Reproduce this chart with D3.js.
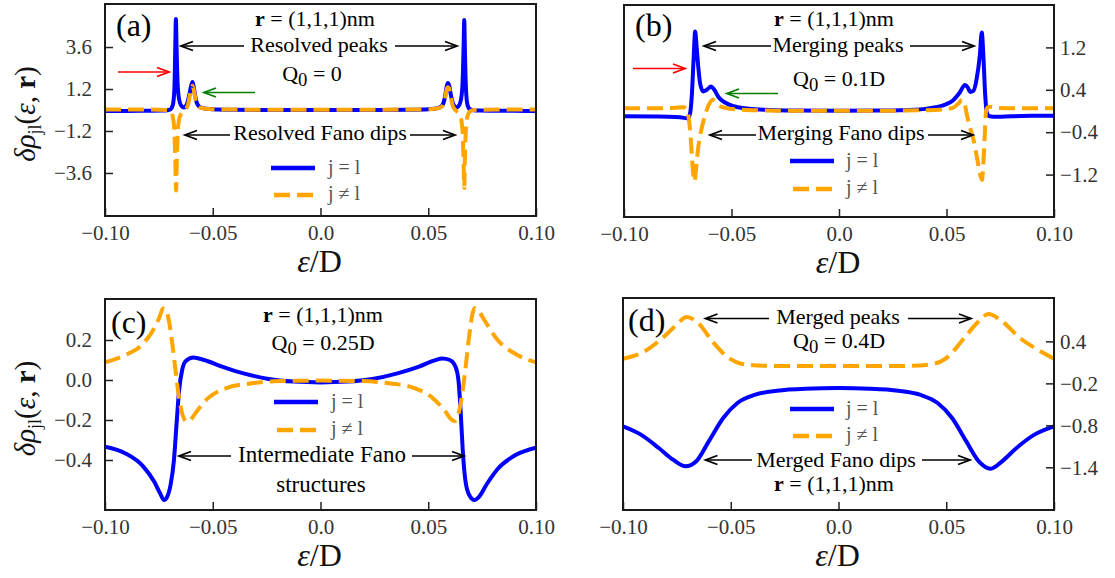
<!DOCTYPE html>
<html>
<head>
<meta charset="utf-8">
<script src="https://cdn.jsdelivr.net/npm/d3@7"></script>
<style>
  body { margin: 0; background: #fff; }
  svg text { font-family: "Liberation Serif", "DejaVu Serif", serif; }
</style>
</head>
<body>
<svg id="fig" width="1115" height="578"></svg>
<script>
// ---- data ----
const xTicks = [-0.10, -0.05, 0.0, 0.05, 0.10];
const xTickLabels = ['−0.10', '−0.05', '0.0', '0.05', '0.10'];

const aYTicks = [3.6, 1.2, -1.2, -3.6];
const aYTickLabels = ['3.6', '1.2', '−1.2', '−3.6'];
const bYTicks = [1.2, 0.4, -0.4, -1.2];
const bYTickLabels = ['1.2', '0.4', '−0.4', '−1.2'];
const cYTicks = [0.2, 0.0, -0.2, -0.4];
const cYTickLabels = ['0.2', '0.0', '−0.2', '−0.4'];
const dYTicks = [0.4, -0.2, -0.8, -1.4];
const dYTickLabels = ['0.4', '−0.2', '−0.8', '−1.4'];

// (a) Q0 = 0
const aSame = [[-0.100,-0.05],[-0.090,-0.05],[-0.080,-0.04],[-0.074,-0.03],[-0.071,-0.01],[-0.0695,0.05],[-0.0685,0.3],[-0.0678,1.2],[-0.0674,3.5],[-0.0671,5.2],[-0.0668,3.6],[-0.0663,1.5],[-0.0656,0.6],[-0.0646,0.25],[-0.0633,0.15],[-0.0621,0.3],[-0.0609,0.85],[-0.0600,1.4],[-0.0594,1.6],[-0.0588,1.3],[-0.0580,0.7],[-0.0570,0.3],[-0.0555,0.14],[-0.053,0.07],[-0.048,0.03],[-0.040,0.01],[-0.020,0.0],[0.0,0.0],[0.020,0.0],[0.040,0.01],[0.048,0.03],[0.053,0.07],[0.0552,0.14],[0.0567,0.3],[0.0577,0.7],[0.0585,1.3],[0.0591,1.55],[0.0597,1.4],[0.0605,0.85],[0.0617,0.3],[0.0629,0.15],[0.0642,0.25],[0.0652,0.6],[0.0659,1.5],[0.0664,3.6],[0.0667,5.15],[0.0670,3.5],[0.0675,1.2],[0.0682,0.3],[0.0692,0.05],[0.071,-0.01],[0.074,-0.03],[0.080,-0.04],[0.090,-0.05],[0.100,-0.05]];
const aDiff = [[-0.100,0.03],[-0.085,0.03],[-0.075,0.02],[-0.071,0.0],[-0.0695,-0.1],[-0.0686,-0.35],[-0.0679,-1.0],[-0.0674,-2.8],[-0.0670,-4.6],[-0.0667,-3.0],[-0.0663,-1.4],[-0.0657,-0.6],[-0.0648,-0.25],[-0.0636,-0.08],[-0.0625,0.05],[-0.0615,0.3],[-0.0606,0.85],[-0.0599,1.25],[-0.0594,1.38],[-0.0588,1.15],[-0.0580,0.6],[-0.0570,0.25],[-0.0555,0.12],[-0.052,0.06],[-0.045,0.03],[-0.030,0.02],[0.0,0.02],[0.030,0.02],[0.045,0.03],[0.052,0.06],[0.0552,0.12],[0.0567,0.25],[0.0577,0.6],[0.0585,1.15],[0.0591,1.3],[0.0596,1.25],[0.0603,0.85],[0.0612,0.3],[0.0622,0.05],[0.0633,-0.08],[0.0645,-0.25],[0.0654,-0.6],[0.0660,-1.4],[0.0664,-3.0],[0.0667,-4.45],[0.0670,-2.8],[0.0675,-1.0],[0.0682,-0.35],[0.0692,-0.1],[0.071,0.0],[0.075,0.02],[0.085,0.03],[0.100,0.03]];

// (b) Q0 = 0.1D
const bSame = [[-0.100,-0.10],[-0.085,-0.105],[-0.076,-0.115],[-0.072,-0.13],[-0.0703,-0.14],[-0.0693,-0.05],[-0.0684,0.33],[-0.0676,1.0],[-0.0669,1.5],[-0.0662,1.2],[-0.0655,0.85],[-0.0646,0.52],[-0.0632,0.37],[-0.0615,0.40],[-0.0595,0.46],[-0.0580,0.4],[-0.0560,0.26],[-0.0530,0.16],[-0.0490,0.09],[-0.0440,0.05],[-0.0350,0.025],[-0.020,0.01],[0.0,0.005],[0.020,0.01],[0.035,0.025],[0.040,0.04],[0.045,0.07],[0.050,0.13],[0.053,0.2],[0.056,0.34],[0.0586,0.49],[0.0598,0.45],[0.0610,0.36],[0.0625,0.38],[0.0640,0.6],[0.0655,1.05],[0.0664,1.48],[0.0672,1.0],[0.0680,0.3],[0.0688,-0.04],[0.0700,-0.1],[0.0735,-0.11],[0.080,-0.10],[0.090,-0.09],[0.100,-0.09]];
const bDiff = [[-0.100,0.05],[-0.085,0.05],[-0.076,0.06],[-0.0725,0.07],[-0.0710,0.04],[-0.0700,-0.1],[-0.0690,-0.5],[-0.0680,-1.1],[-0.0672,-1.33],[-0.0664,-1.05],[-0.0655,-0.7],[-0.0645,-0.45],[-0.0630,-0.18],[-0.0615,0.02],[-0.0600,0.16],[-0.0588,0.21],[-0.0575,0.18],[-0.0560,0.11],[-0.0530,0.06],[-0.0480,0.03],[-0.040,0.015],[-0.020,0.005],[0.0,0.005],[0.020,0.005],[0.040,0.015],[0.048,0.03],[0.0530,0.06],[0.0555,0.14],[0.0572,0.21],[0.0585,0.12],[0.0597,-0.11],[0.0612,-0.35],[0.0626,-0.55],[0.0645,-0.95],[0.0665,-1.3],[0.0672,-0.95],[0.0678,-0.45],[0.0684,0.0],[0.0692,0.07],[0.0705,0.08],[0.0730,0.06],[0.085,0.05],[0.100,0.05]];

// (c) Q0 = 0.25D
const cSame = [[-0.100,-0.333],[-0.0905,-0.367],[-0.0822,-0.433],[-0.0772,-0.508],[-0.0745,-0.565],[-0.0726,-0.60],[-0.0712,-0.585],[-0.0695,-0.52],[-0.0680,-0.40],[-0.0668,-0.22],[-0.0656,-0.05],[-0.0642,0.05],[-0.0625,0.095],[-0.0590,0.112],[-0.0540,0.10],[-0.0457,0.067],[-0.0357,0.033],[-0.0241,0.005],[-0.0125,-0.008],[0.0,-0.012],[0.0125,-0.008],[0.0241,0.005],[0.0357,0.033],[0.0457,0.067],[0.0530,0.098],[0.0565,0.108],[0.0600,0.10],[0.0625,0.07],[0.0640,0.0],[0.0650,-0.15],[0.0660,-0.35],[0.0672,-0.5],[0.0690,-0.575],[0.0715,-0.60],[0.0735,-0.585],[0.0772,-0.52],[0.0822,-0.445],[0.0905,-0.375],[0.100,-0.338]];
const cDiff = [[-0.100,0.088],[-0.0905,0.125],[-0.0822,0.183],[-0.0772,0.258],[-0.0745,0.32],[-0.0731,0.358],[-0.0716,0.35],[-0.0706,0.31],[-0.0690,0.20],[-0.0673,0.05],[-0.0656,-0.09],[-0.0640,-0.175],[-0.0620,-0.208],[-0.0600,-0.195],[-0.0581,-0.167],[-0.0523,-0.092],[-0.044,-0.042],[-0.0324,-0.017],[-0.0191,-0.005],[0.0,-0.003],[0.0191,-0.005],[0.0324,-0.017],[0.044,-0.042],[0.0523,-0.092],[0.0581,-0.16],[0.0605,-0.195],[0.0622,-0.205],[0.0640,-0.17],[0.0656,-0.08],[0.0673,0.06],[0.0690,0.22],[0.0705,0.33],[0.0716,0.36],[0.0731,0.35],[0.0760,0.3],[0.0822,0.2],[0.0905,0.13],[0.100,0.088]];

// (d) Q0 = 0.4D
const dSame = [[-0.100,-0.814],[-0.0917,-0.933],[-0.0834,-1.124],[-0.0768,-1.29],[-0.0710,-1.386],[-0.0660,-1.314],[-0.0602,-1.029],[-0.0535,-0.695],[-0.0469,-0.481],[-0.0386,-0.362],[-0.0286,-0.305],[-0.0154,-0.276],[0.0,-0.267],[0.0145,-0.276],[0.0278,-0.305],[0.0378,-0.362],[0.046,-0.481],[0.0527,-0.695],[0.0593,-1.029],[0.0651,-1.314],[0.0706,-1.419],[0.0759,-1.314],[0.0826,-1.124],[0.0909,-0.933],[0.100,-0.814]];
const dDiff = [[-0.100,0.152],[-0.090,0.257],[-0.0817,0.448],[-0.0751,0.638],[-0.0705,0.748],[-0.0651,0.662],[-0.0585,0.40],[-0.0519,0.186],[-0.0452,0.081],[-0.0353,0.052],[-0.0237,0.048],[0.0,0.048],[0.0237,0.048],[0.0344,0.052],[0.0444,0.081],[0.051,0.186],[0.0577,0.424],[0.0643,0.662],[0.0696,0.79],[0.0759,0.686],[0.0842,0.448],[0.0925,0.281],[0.100,0.152]];

const BLUE = '#0000ff';
const ORANGE = '#ffa500';
const svg = d3.select('#fig');

// ---- helpers ----
function richText(g, x, y, parts, size, anchor, color) {
  const t = g.append('text')
    .attr('x', x).attr('y', y)
    .attr('text-anchor', anchor || 'middle')
    .attr('fill', color || '#000')
    .style('font-size', size + 'px');
  parts.forEach(p => {
    const s = t.append('tspan').text(p.t);
    if (p.b) s.style('font-weight', 'bold');
    if (p.i) s.style('font-style', 'italic');
    if (p.dy) s.attr('dy', p.dy);
    if (p.fs) s.style('font-size', p.fs);
  });
  return t;
}

function arrow(g, x1, y, x2, color) {
  const dir = Math.sign(x2 - x1);
  g.append('line')
    .attr('x1', x1).attr('y1', y).attr('x2', x2 - dir * 1).attr('y2', y)
    .attr('stroke', color).attr('stroke-width', 1.6);
  g.append('path')
    .attr('d', `M${x2 - dir * 12},${y - 4.5}L${x2},${y}L${x2 - dir * 12},${y + 4.5}`)
    .attr('fill', 'none').attr('stroke', color).attr('stroke-width', 1.8);
}

const rParts = [{ t: 'r', b: true }, { t: ' = (1,1,1)nm' }];
const qParts = v => [{ t: 'Q' }, { t: '0', dy: 5, fs: '0.85em' }, { t: ' = ' + v, dy: -5 }];

// ---- panels ----
const panels = [
  { name: '(a)', box: [105, 4, 536, 216], yDomain: [-6.06, 6.06], yTicks: aYTicks, yLabels: aYTickLabels, side: 'left', same: aSame, diff: aDiff },
  { name: '(b)', box: [624, 5, 1054, 217], yDomain: [-2.0, 2.0], yTicks: bYTicks, yLabels: bYTickLabels, side: 'right', same: bSame, diff: bDiff },
  { name: '(c)', box: [105, 299, 536, 510], yDomain: [-0.65, 0.405], yTicks: cYTicks, yLabels: cYTickLabels, side: 'left', same: cSame, diff: cDiff },
  { name: '(d)', box: [623, 298, 1054, 510], yDomain: [-2.01, 1.02], yTicks: dYTicks, yLabels: dYTickLabels, side: 'right', same: dSame, diff: dDiff }
];

panels.forEach((p, k) => {
  const [x0, y0, x1, y1] = p.box;
  const x = d3.scaleLinear().domain([-0.1, 0.1]).range([x0, x1]);
  const y = d3.scaleLinear().domain(p.yDomain).range([y1, y0]);
  const g = svg.append('g');

  const clipId = 'clip' + k;
  svg.append('clipPath').attr('id', clipId)
    .append('rect').attr('x', x0).attr('y', y0).attr('width', x1 - x0).attr('height', y1 - y0);

  const line = d3.line().x(d => x(d[0])).y(d => y(d[1])).curve(d3.curveMonotoneX);
  const lines = g.append('g').attr('clip-path', `url(#${clipId})`);
  lines.append('path').datum(p.same)
    .attr('d', line).attr('fill', 'none')
    .attr('stroke', BLUE).attr('stroke-width', 4).attr('stroke-linejoin', 'round');
  lines.append('path').datum(p.diff)
    .attr('d', line).attr('fill', 'none')
    .attr('stroke', ORANGE).attr('stroke-width', 4).attr('stroke-dasharray', '16,7');

  // axes with inward ticks
  const xAxis = d3.axisBottom(x).tickValues(xTicks)
    .tickFormat((d, i) => xTickLabels[i]).tickSizeInner(-8).tickSizeOuter(0).tickPadding(9);
  const gx = g.append('g').attr('transform', `translate(0,${y1})`).call(xAxis);

  let gy;
  if (p.side === 'left') {
    const yAxis = d3.axisLeft(y).tickValues(p.yTicks)
      .tickFormat((d, i) => p.yLabels[i]).tickSizeInner(-8).tickSizeOuter(0).tickPadding(13);
    gy = g.append('g').attr('transform', `translate(${x0},0)`).call(yAxis);
  } else {
    const yAxis = d3.axisRight(y).tickValues(p.yTicks)
      .tickFormat((d, i) => p.yLabels[i]).tickSizeInner(-8).tickSizeOuter(0).tickPadding(6);
    gy = g.append('g').attr('transform', `translate(${x1},0)`).call(yAxis);
  }
  [gx, gy].forEach(a => {
    a.attr('font-family', null);
    a.select('.domain').remove();
    a.selectAll('.tick line').attr('stroke', '#222').attr('stroke-width', 1.5);
    a.selectAll('.tick text')
      .style('font-family', '"Liberation Serif", serif')
      .style('font-size', '21px').attr('fill', '#333');
  });

  // frame
  g.append('rect')
    .attr('x', x0).attr('y', y0).attr('width', x1 - x0).attr('height', y1 - y0)
    .attr('fill', 'none').attr('stroke', '#1a1a1a').attr('stroke-width', 2);

  // x label
  const cx = (x0 + x1) / 2;
  richText(g, cx - 1, y1 + 56, [{ t: 'ε', i: true }, { t: '/D' }], 32, 'middle', '#111');

  // y label
  if (p.side === 'left') {
    const cy = (y0 + y1) / 2 + 4;
    richText(g, 0, 0, [
      { t: 'δρ', i: true }, { t: 'jl', dy: 6, fs: '0.62em' },
      { t: '(', dy: -6 }, { t: 'ε', i: true }, { t: ', ' }, { t: 'r', b: true }, { t: ')' }
    ], 29, 'middle', '#111').attr('transform', `translate(35,${cy}) rotate(-90)`);
  }
});

// ---- annotations ----
const ann = svg.append('g');

function legend(lx0, lx1, yTop, yBot, tx) {
  ann.append('line').attr('x1', lx0).attr('x2', lx1).attr('y1', yTop).attr('y2', yTop)
    .attr('stroke', BLUE).attr('stroke-width', 4.5);
  ann.append('line').attr('x1', lx0 + 3).attr('x2', lx1).attr('y1', yBot).attr('y2', yBot)
    .attr('stroke', ORANGE).attr('stroke-width', 4.5).attr('stroke-dasharray', '16,7');
  richText(ann, tx, yTop + 6, [{ t: 'j = l' }], 20, 'start', '#555');
  richText(ann, tx, yBot + 5, [{ t: 'j ≠ l' }], 20, 'start', '#555');
}

// (a)
richText(ann, 116, 36, [{ t: '(a)' }], 32, 'start');
richText(ann, 315, 26, rParts, 22);
richText(ann, 319, 52, [{ t: 'Resolved peaks' }], 22);
arrow(ann, 244, 46, 181, '#000');
arrow(ann, 395, 46, 457, '#000');
richText(ann, 312, 81, qParts('0'), 22);
arrow(ann, 118, 72, 169, '#ff0000');
arrow(ann, 255, 92.5, 204, '#008000');
richText(ann, 320, 140, [{ t: 'Resolved Fano dips' }], 22);
arrow(ann, 230, 135, 185, '#000');
arrow(ann, 410, 135, 455, '#000');
legend(271, 315, 168, 195, 328);

// (b)
richText(ann, 635, 36, [{ t: '(b)' }], 32, 'start');
richText(ann, 834, 26, rParts, 22);
richText(ann, 838, 52, [{ t: 'Merging peaks' }], 22);
arrow(ann, 771, 46, 704, '#000');
arrow(ann, 910, 46, 974, '#000');
richText(ann, 839, 86, qParts('0.1D'), 22);
arrow(ann, 633, 68.5, 685, '#ff0000');
arrow(ann, 778, 93.5, 727, '#008000');
richText(ann, 841, 140, [{ t: 'Merging Fano dips' }], 22);
arrow(ann, 756, 135, 710, '#000');
arrow(ann, 928, 135, 973, '#000');
legend(790, 834, 161, 189, 846);

// (c)
richText(ann, 111, 333, [{ t: '(c)' }], 32, 'start');
richText(ann, 323, 322, rParts, 22);
richText(ann, 323, 350, qParts('0.25D'), 22);
legend(274, 318, 402, 430, 331);
richText(ann, 322, 462, [{ t: 'Intermediate Fano' }], 23);
arrow(ann, 231, 456, 179, '#000');
arrow(ann, 412, 456, 464, '#000');
richText(ann, 321, 492, [{ t: 'structures' }], 23);

// (d)
richText(ann, 628, 331, [{ t: '(d)' }], 32, 'start');
richText(ann, 838, 324, [{ t: 'Merged peaks' }], 22);
arrow(ann, 769, 318.5, 705.5, '#000');
arrow(ann, 908, 318.5, 971, '#000');
richText(ann, 839, 348, qParts('0.4D'), 22);
legend(790, 834, 409, 436, 846);
richText(ann, 836, 467, [{ t: 'Merged Fano dips' }], 22);
arrow(ann, 752, 460, 705.5, '#000');
arrow(ann, 922, 460, 970, '#000');
richText(ann, 834, 491, rParts, 22);
</script>
</body>
</html>
